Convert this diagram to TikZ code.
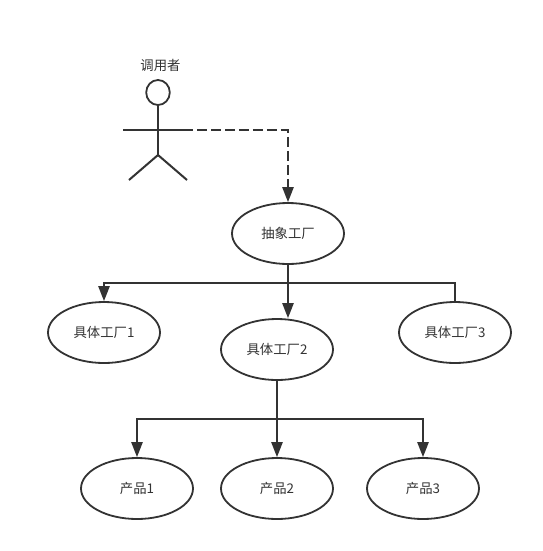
\documentclass[tikz,border=0pt]{standalone}
\usepackage{fontspec}
\setmainfont{Noto Sans CJK SC}
\usetikzlibrary{arrows.meta,shapes.geometric}
\definecolor{inkgray}{HTML}{333333}
\tikzset{
	factory/.style={draw=inkgray,ellipse,line width=0.09cm,minimum width=5.6cm,minimum height=3.05cm,inner sep=0pt,text=inkgray,font=\fontsize{19pt}{21pt}\selectfont},
	wire/.style={draw=inkgray,line width=0.1cm},
	tip/.style={wire,-{Triangle[length=0.75cm,width=0.56cm]}}
}
\begin{document}
\begin{tikzpicture}[x=0.05cm,y=-0.05cm]
	\useasboundingbox (0,0) rectangle (543,551);
	\fill[white] (0,0) rectangle (543,551);

	\node[text=inkgray,font=\fontsize{19pt}{21pt}\selectfont] (caller) at (160.5,65) {调用者};
	\node[draw=inkgray,ellipse,line width=0.09cm,minimum width=1.18cm,minimum height=1.25cm,inner sep=0pt] (head) at (158,92.5) {};
	\coordinate (hip) at (158,155);
	\coordinate (armL) at (123,130);
	\coordinate (armR) at (193,130);
	\coordinate (legL) at (129,180);
	\coordinate (legR) at (187,180);
	\coordinate (corner) at (288,130);
	\draw[wire] (head) -- (hip);
	\draw[wire] (armL) -- (armR);
	\draw[wire] (legL) -- (hip) -- (legR);

	\node[factory] (abstract) at (288,233.5) {抽象工厂};
	\node[factory] (concrete1) at (104,332.5) {具体工厂1};
	\node[factory] (concrete2) at (277,349.5) {具体工厂2};
	\node[factory] (concrete3) at (455,332.5) {具体工厂3};
	\node[factory] (product1) at (137,488.5) {产品1};
	\node[factory] (product2) at (277,488.5) {产品2};
	\node[factory] (product3) at (423,488.5) {产品3};

	\coordinate (busA) at (288,283);
	\coordinate (busB) at (277,419);

	\draw[tip,dash pattern=on 0.5cm off 0.2cm,dash phase=0.5cm] (armR) -- (corner) -- (abstract.north);
	\draw[wire] (abstract.south) -- (busA);
	\draw[tip] (busA) -| (concrete1.north);
	\draw[tip] (busA) -- (busA |- concrete2.north);
	\draw[wire] (busA) -| (concrete3.north);
	\draw[wire] (concrete2.south) -- (busB);
	\draw[tip] (busB) -| (product1.north);
	\draw[tip] (busB) -- (product2.north);
	\draw[tip] (busB) -| (product3.north);
\end{tikzpicture}
\end{document}
